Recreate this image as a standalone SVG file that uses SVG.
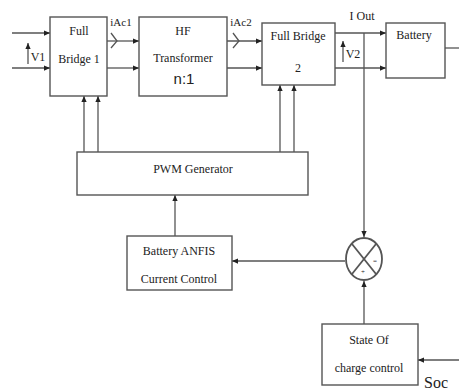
<svg xmlns="http://www.w3.org/2000/svg" width="459" height="392" viewBox="0 0 459 392">
<style>
.box{fill:#fff;stroke:#555;stroke-width:1.4}
.ln{fill:none;stroke:#555;stroke-width:1.3}
text{font-family:"Liberation Serif","Times New Roman",serif;font-size:12px;fill:#222;text-anchor:middle}
.sm{font-size:11px}
</style>
<defs>
<marker id="ah" viewBox="0 0 8 8" refX="8" refY="4" markerWidth="6" markerHeight="6" orient="auto" markerUnits="userSpaceOnUse">
<path d="M0,0.5 L8,4 L0,7.5 Z" fill="#222"/>
</marker>
</defs>
<rect width="459" height="392" fill="#fff"/>
<g id="connectors">
<line class="ln" x1="12" y1="33" x2="50" y2="33" marker-end="url(#ah)"/>
<line class="ln" x1="12" y1="68" x2="50" y2="68" marker-end="url(#ah)"/>
<line class="ln" x1="28" y1="64" x2="28" y2="43" marker-end="url(#ah)"/>
<line class="ln" x1="107" y1="41" x2="139" y2="41" marker-end="url(#ah)"/>
<line class="ln" x1="107" y1="68" x2="139" y2="68" marker-end="url(#ah)"/>
<path class="ln" d="M111,33 L117,41 L111,48"/>
<line class="ln" x1="227" y1="41" x2="262" y2="41" marker-end="url(#ah)"/>
<line class="ln" x1="227" y1="68" x2="262" y2="68" marker-end="url(#ah)"/>
<path class="ln" d="M233,33 L239,41 L233,48"/>
<line class="ln" x1="335" y1="33" x2="386" y2="33" marker-end="url(#ah)"/>
<line class="ln" x1="335" y1="68" x2="386" y2="68" marker-end="url(#ah)"/>
<line class="ln" x1="343" y1="62" x2="343" y2="41" marker-end="url(#ah)"/>
<line class="ln" x1="445" y1="48" x2="459" y2="48"/>
<line class="ln" x1="364" y1="33" x2="364" y2="237" marker-end="url(#ah)"/>
<line class="ln" x1="84" y1="152" x2="84" y2="96" marker-end="url(#ah)"/>
<line class="ln" x1="98" y1="152" x2="98" y2="96" marker-end="url(#ah)"/>
<line class="ln" x1="280" y1="152" x2="280" y2="85" marker-end="url(#ah)"/>
<line class="ln" x1="294" y1="152" x2="294" y2="85" marker-end="url(#ah)"/>
<line class="ln" x1="175" y1="236" x2="175" y2="195" marker-end="url(#ah)"/>
<line class="ln" x1="345" y1="261" x2="232" y2="261" marker-end="url(#ah)"/>
<line class="ln" x1="364" y1="324" x2="364" y2="281" marker-end="url(#ah)"/>
<line class="ln" x1="459" y1="360" x2="418" y2="360" marker-end="url(#ah)"/>
</g>
<g id="labels">
<text x="38" y="61">V1</text>
<text x="121" y="26" class="sm">iAc1</text>
<text x="241" y="26" class="sm">iAc2</text>
<text x="362" y="20">I Out</text>
<text x="353" y="58">V2</text>
<text x="436" y="388" style="font-size:16px">Soc</text>
</g>
<g id="fullbridge1">
<rect class="box" x="50" y="17" width="57" height="79"/>
<text x="79" y="35">Full</text>
<text x="79" y="63">Bridge 1</text>
</g>
<g id="hftransformer">
<rect class="box" x="139" y="17" width="88" height="79"/>
<text x="183" y="35">HF</text>
<text x="183" y="62">Transformer</text>
<text x="184" y="84" style="font-family:'Liberation Sans',Arial,sans-serif;font-size:15px">n:1</text>
</g>
<g id="fullbridge2">
<rect class="box" x="262" y="23" width="73" height="62"/>
<text x="298" y="40">Full Bridge</text>
<text x="298" y="72">2</text>
</g>
<g id="battery">
<rect class="box" x="386" y="23" width="59" height="55"/>
<text x="414" y="39">Battery</text>
</g>
<g id="pwm">
<rect class="box" x="77" y="152" width="231" height="43"/>
<text x="193" y="173">PWM Generator</text>
</g>
<g id="anfis">
<rect class="box" x="127" y="236" width="105" height="54"/>
<text x="179" y="255">Battery ANFIS</text>
<text x="179" y="283">Current Control</text>
</g>
<g id="sum">
<ellipse class="box" cx="364" cy="259" rx="18" ry="21" style="stroke-width:1.8"/>
<line class="ln" x1="352" y1="244" x2="376" y2="274" style="stroke-width:1.8"/>
<line class="ln" x1="376" y1="244" x2="352" y2="274" style="stroke-width:1.8"/>
<text x="375" y="263" style="font-size:7px">=</text>
<text x="363" y="274" style="font-size:7px">+</text>
</g>
<g id="soc">
<rect class="box" x="322" y="324" width="96" height="61"/>
<text x="369" y="344">State Of</text>
<text x="369" y="372">charge control</text>
</g>
</svg>
